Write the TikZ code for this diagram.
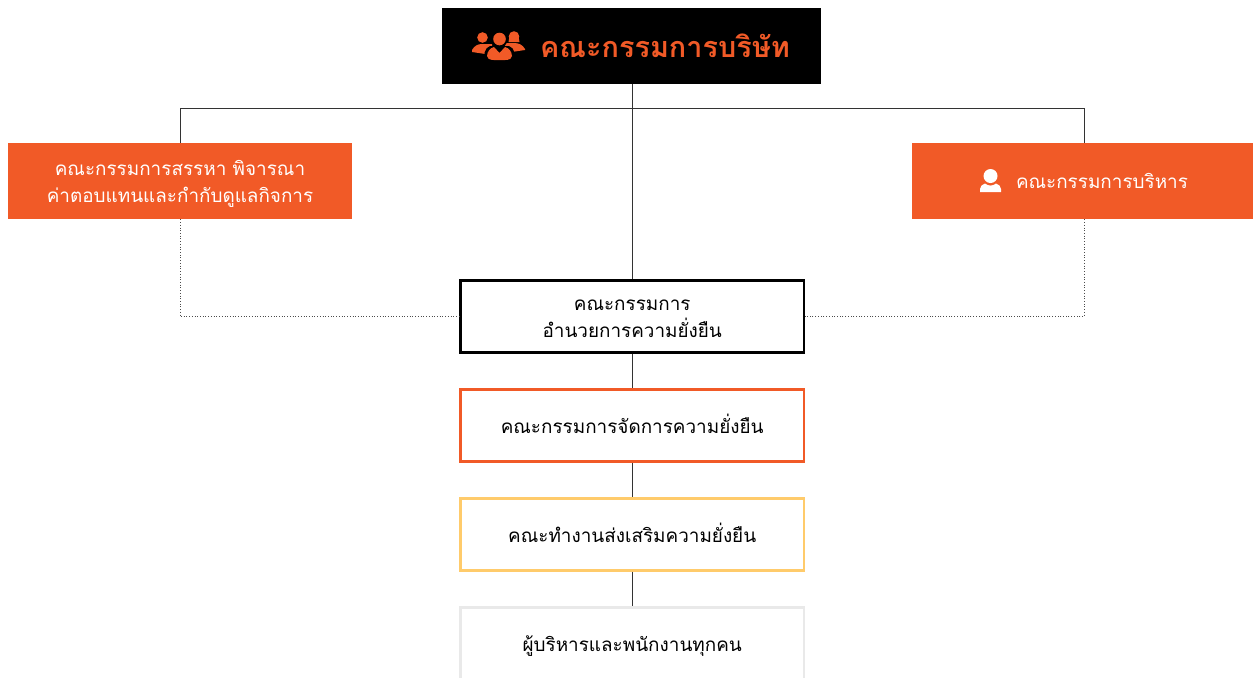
\documentclass[tikz,border=0pt]{standalone}
\usepackage{fontspec}
\setmainfont[Script=Thai]{Loma}
\usepackage{xcolor}
\usetikzlibrary{calc}
\definecolor{boardorange}{HTML}{F15A27}
\definecolor{workyellow}{HTML}{FFCB6B}
\definecolor{staffgray}{HTML}{E9E9E9}
\tikzset{
    box/.style={minimum width=6.88cm,minimum height=1.52cm,inner sep=0pt,align=center,text height=9.5pt,text depth=0.8pt,font=\fontsize{10.75}{15.3}\selectfont},
    twolines/.style={text height=24.8pt},
    orangebox/.style={box,fill=boardorange,text=white},
    linebox/.style={box,draw=#1,line width=1.4pt,fill=white,minimum width=6.87cm,minimum height=1.44cm},
    link/.style={line width=0.55pt,black!80},
    dotlink/.style={line width=0.55pt,black!70,densely dotted}
}
\begin{document}
\begin{tikzpicture}[x=0.02cm,y=-0.02cm]
        \useasboundingbox (0,0) rectangle (1253,677);
        \clip (0,0) rectangle (1253,677);
        \node[box,fill=black,text=boardorange,minimum width=7.58cm,text height=14.5pt,text depth=0.9pt,font=\fontsize{16.4}{18}\bfseries] (board) at (631.5,46) {\hspace*{1.34cm}คณะกรรมการบริษัท};
        \node[orangebox,twolines] (nomination) at (180,181) {คณะกรรมการสรรหา พิจารณา\\ค่าตอบแทนและกำกับดูแลกิจการ};
        \node[orangebox] (executive) at (1084,181) {\hspace*{0.72cm}คณะกรรมการบริหาร};
        \node[linebox=black,twolines] (steering) at (632.2,316.4) {คณะกรรมการ\\อำนวยการความยั่งยืน};
        \node[linebox=boardorange] (manage) at (632.2,425.4) {คณะกรรมการจัดการความยั่งยืน};
        \node[linebox=workyellow] (working) at (632.2,534.4) {คณะทำงานส่งเสริมความยั่งยืน};
        \node[linebox=staffgray] (staff) at (632.2,643.4) {ผู้บริหารและพนักงานทุกคน};
        \coordinate (split) at (632,108);
        \draw[link] (board.south -| split)--(steering.north -| split);
        \draw[link] (split)-|(nomination.north);
        \draw[link] (split)-|(executive.north);
        \draw[dotlink] (nomination.south)|-(steering.west);
        \draw[dotlink] (executive.south)|-(steering.east);
        \draw[link] (steering.south -| split)--(manage.north -| split);
        \draw[link] (manage.south -| split)--(working.north -| split);
        \draw[link] (working.south -| split)--(staff.north -| split);
        \fill[white] (990.5,176) circle (7);
        \fill[white] (980,192)--(980,189) to[out=90,in=200] (985,183.5) to[out=-40,in=220] (996,183.5) to[out=-20,in=90] (1001,189)--(1001,192)--cycle;
        \fill[boardorange] (482.5,37.5) circle (5.3);
        \fill[boardorange] (514,36.5) circle (5.3);
        \fill[boardorange] (472,52)--(472,50) to[out=60,in=180] (482,44)--(492,44)--(492,55)--cycle;
        \fill[boardorange] (525,50)--(525,49) to[out=120,in=0] (514,43)--(505,43)--(505,53)--cycle;
        \fill[boardorange] (508.5,42) to[out=80,in=190] (514,32) to[out=-10,in=100] (519.5,42)--cycle;
        \fill[black] (499.5,39.5) circle (8);
        \fill[black] (484,61) to[out=90,in=200] (490,46) to (509,46) to[out=-20,in=90] (515,61)--cycle;
        \fill[boardorange] (499.5,39) circle (6.3);
        \fill[boardorange] (487,56) to[out=85,in=195] (494,47) to (499.5,53) to (505,47) to[out=-15,in=95] (512,56) to[out=-100,in=0] (499.5,60) to[out=180,in=-80] cycle;
    \end{tikzpicture}
\end{document}
